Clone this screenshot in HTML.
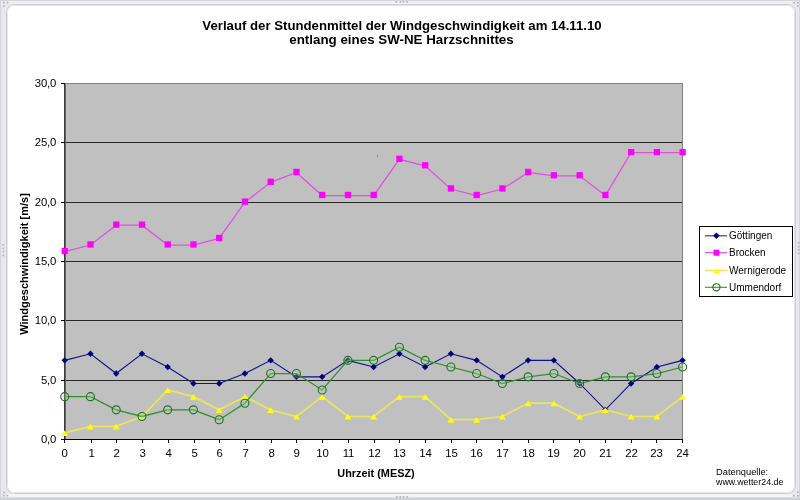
<!DOCTYPE html>
<html><head><meta charset="utf-8"><style>
html,body{margin:0;padding:0;width:800px;height:500px;overflow:hidden;background:#fff}
body{position:relative;font-family:"Liberation Sans",sans-serif;color:#000}
.tx{position:absolute;left:0;top:0;width:800px;height:500px;will-change:transform}
svg{position:absolute;left:0;top:0}
.t{position:absolute;left:0;width:804px;text-align:center;font-weight:bold;font-size:13.2px;white-space:nowrap}
.yl{position:absolute;left:0;width:56px;text-align:right;font-size:11.3px;line-height:14px;letter-spacing:-0.2px}
.xl{position:absolute;top:445.5px;width:40px;text-align:center;font-size:11.4px;line-height:14px;letter-spacing:-0.2px}
.lg{position:absolute;left:729px;font-size:10px;line-height:13px;white-space:nowrap}
.yt{position:absolute;left:23.5px;top:264px;width:200px;margin-left:-100px;margin-top:-7px;text-align:center;font-weight:bold;font-size:11px;line-height:14px;transform:rotate(-90deg);white-space:nowrap}
.xt{position:absolute;top:466px;left:276px;width:200px;text-align:center;font-weight:bold;font-size:10.9px;line-height:14px;white-space:nowrap}
.ds{position:absolute;left:716px;font-size:9px;line-height:10px;white-space:nowrap}
</style></head><body>
<svg width="800" height="500" viewBox="0 0 800 500">
<rect x="0" y="0" width="800" height="500" fill="#e9e9ed"/>
<rect x="8" y="1" width="784" height="3" fill="#f0f0f2"/>
<rect x="8" y="494" width="784" height="3" fill="#f4f4f6"/>
<rect x="0" y="497" width="800" height="1" fill="#e0e0e4"/>
<rect x="0.5" y="0.5" width="799" height="498" fill="none" stroke="#d6d6da" stroke-width="1"/>
<rect x="0" y="498" width="800" height="2" fill="#d0d0d8"/>
<rect x="6.5" y="4.5" width="789" height="489" rx="8" ry="8" fill="#ffffff" stroke="#cdcdd0" stroke-width="1"/>
<rect x="7.5" y="5.5" width="787" height="487" rx="7" ry="7" fill="none" stroke="#e6e6e8" stroke-width="1"/>
<rect x="3.0" y="1.7999999999999998" width="1.6" height="1.6" fill="#b0b0b4"/><rect x="6.8" y="1.7999999999999998" width="1.6" height="1.6" fill="#b0b0b4"/><rect x="3.0" y="5.3" width="1.6" height="1.6" fill="#b0b0b4"/>
<rect x="395.5" y="1.0" width="1.6" height="1.6" fill="#b0b0b4"/><rect x="399.75" y="1.0" width="1.6" height="1.6" fill="#b0b0b4"/><rect x="402.75" y="1.0" width="1.6" height="1.6" fill="#b0b0b4"/><rect x="406.25" y="1.0" width="1.6" height="1.6" fill="#b0b0b4"/>
<rect x="797.0" y="491.5" width="1.6" height="1.6" fill="#b0b0b4"/><rect x="793.0" y="495.0" width="1.6" height="1.6" fill="#b0b0b4"/><rect x="797.0" y="495.0" width="1.6" height="1.6" fill="#b0b0b4"/>
<rect x="2.5" y="244.1" width="1.6" height="1.6" fill="#b0b0b4"/><rect x="2.5" y="247.7" width="1.6" height="1.6" fill="#b0b0b4"/><rect x="2.5" y="250.9" width="1.6" height="1.6" fill="#b0b0b4"/><rect x="2.5" y="254.7" width="1.6" height="1.6" fill="#b0b0b4"/>
<rect x="797.7" y="242.3" width="1.6" height="1.6" fill="#b0b0b4"/><rect x="797.7" y="245.9" width="1.6" height="1.6" fill="#b0b0b4"/><rect x="797.7" y="249.1" width="1.6" height="1.6" fill="#b0b0b4"/><rect x="797.7" y="252.7" width="1.6" height="1.6" fill="#b0b0b4"/>
<rect x="396.0" y="496.0" width="1.6" height="1.6" fill="#b0b0b4"/><rect x="399.5" y="496.0" width="1.6" height="1.6" fill="#b0b0b4"/><rect x="402.75" y="496.0" width="1.6" height="1.6" fill="#b0b0b4"/><rect x="406.5" y="496.0" width="1.6" height="1.6" fill="#b0b0b4"/>
<rect x="3.1" y="491.7" width="1.6" height="1.6" fill="#b0b0b4"/><rect x="6.7" y="494.8" width="1.6" height="1.6" fill="#b0b0b4"/><rect x="3.1" y="494.8" width="1.6" height="1.6" fill="#b0b0b4"/>
<rect x="793.5" y="1.9" width="1.6" height="1.6" fill="#b0b0b4"/><rect x="797.1" y="1.9" width="1.6" height="1.6" fill="#b0b0b4"/><rect x="797.1" y="5.2" width="1.6" height="1.6" fill="#b0b0b4"/>
<rect x="64.5" y="83.5" width="618" height="356" fill="#c0c0c0" stroke="#808080" stroke-width="1"/>
<line x1="64" y1="380.5" x2="682" y2="380.5" stroke="#282828" stroke-width="1"/>
<line x1="64" y1="320.5" x2="682" y2="320.5" stroke="#282828" stroke-width="1"/>
<line x1="64" y1="261.5" x2="682" y2="261.5" stroke="#282828" stroke-width="1"/>
<line x1="64" y1="202.5" x2="682" y2="202.5" stroke="#282828" stroke-width="1"/>
<line x1="64" y1="142.5" x2="682" y2="142.5" stroke="#282828" stroke-width="1"/>
<line x1="64.5" y1="83" x2="64.5" y2="440" stroke="#383838" stroke-width="1"/>
<line x1="65.5" y1="84" x2="65.5" y2="439" stroke="#686868" stroke-width="1"/>
<line x1="64" y1="439.5" x2="683" y2="439.5" stroke="#000" stroke-width="1"/>
<line x1="61" y1="439.5" x2="65" y2="439.5" stroke="#000" stroke-width="1"/>
<line x1="61" y1="380.5" x2="65" y2="380.5" stroke="#000" stroke-width="1"/>
<line x1="61" y1="320.5" x2="65" y2="320.5" stroke="#000" stroke-width="1"/>
<line x1="61" y1="261.5" x2="65" y2="261.5" stroke="#000" stroke-width="1"/>
<line x1="61" y1="202.5" x2="65" y2="202.5" stroke="#000" stroke-width="1"/>
<line x1="61" y1="142.5" x2="65" y2="142.5" stroke="#000" stroke-width="1"/>
<line x1="61" y1="83.5" x2="65" y2="83.5" stroke="#000" stroke-width="1"/>
<line x1="64.5" y1="439" x2="64.5" y2="443" stroke="#000" stroke-width="1"/>
<line x1="91.5" y1="439" x2="91.5" y2="443" stroke="#000" stroke-width="1"/>
<line x1="116.5" y1="439" x2="116.5" y2="443" stroke="#000" stroke-width="1"/>
<line x1="142.5" y1="439" x2="142.5" y2="443" stroke="#000" stroke-width="1"/>
<line x1="168.5" y1="439" x2="168.5" y2="443" stroke="#000" stroke-width="1"/>
<line x1="194.5" y1="439" x2="194.5" y2="443" stroke="#000" stroke-width="1"/>
<line x1="219.5" y1="439" x2="219.5" y2="443" stroke="#000" stroke-width="1"/>
<line x1="245.5" y1="439" x2="245.5" y2="443" stroke="#000" stroke-width="1"/>
<line x1="271.5" y1="439" x2="271.5" y2="443" stroke="#000" stroke-width="1"/>
<line x1="296.5" y1="439" x2="296.5" y2="443" stroke="#000" stroke-width="1"/>
<line x1="322.5" y1="439" x2="322.5" y2="443" stroke="#000" stroke-width="1"/>
<line x1="348.5" y1="439" x2="348.5" y2="443" stroke="#000" stroke-width="1"/>
<line x1="374.5" y1="439" x2="374.5" y2="443" stroke="#000" stroke-width="1"/>
<line x1="399.5" y1="439" x2="399.5" y2="443" stroke="#000" stroke-width="1"/>
<line x1="425.5" y1="439" x2="425.5" y2="443" stroke="#000" stroke-width="1"/>
<line x1="451.5" y1="439" x2="451.5" y2="443" stroke="#000" stroke-width="1"/>
<line x1="476.5" y1="439" x2="476.5" y2="443" stroke="#000" stroke-width="1"/>
<line x1="502.5" y1="439" x2="502.5" y2="443" stroke="#000" stroke-width="1"/>
<line x1="528.5" y1="439" x2="528.5" y2="443" stroke="#000" stroke-width="1"/>
<line x1="553.5" y1="439" x2="553.5" y2="443" stroke="#000" stroke-width="1"/>
<line x1="579.5" y1="439" x2="579.5" y2="443" stroke="#000" stroke-width="1"/>
<line x1="605.5" y1="439" x2="605.5" y2="443" stroke="#000" stroke-width="1"/>
<line x1="631.5" y1="439" x2="631.5" y2="443" stroke="#000" stroke-width="1"/>
<line x1="656.5" y1="439" x2="656.5" y2="443" stroke="#000" stroke-width="1"/>
<line x1="682.5" y1="439" x2="682.5" y2="443" stroke="#000" stroke-width="1"/>
<polyline points="64.70,360.35 90.45,353.82 116.19,373.52 141.94,353.82 167.68,366.99 193.43,383.49 219.18,383.49 244.92,373.52 270.67,360.35 296.41,376.84 322.16,376.84 347.90,360.35 373.65,366.99 399.40,353.82 425.14,366.99 450.89,353.82 476.63,360.35 502.38,376.84 528.12,360.35 553.87,360.35 579.62,383.49 605.36,409.83 631.11,383.49 656.85,366.99 682.60,360.35" fill="none" stroke="#101088" stroke-width="1.1"/>
<polygon points="64.70,357.15 67.90,360.35 64.70,363.55 61.50,360.35" fill="#000080"/>
<polygon points="90.45,350.62 93.65,353.82 90.45,357.02 87.25,353.82" fill="#000080"/>
<polygon points="116.19,370.32 119.39,373.52 116.19,376.72 112.99,373.52" fill="#000080"/>
<polygon points="141.94,350.62 145.14,353.82 141.94,357.02 138.74,353.82" fill="#000080"/>
<polygon points="167.68,363.79 170.88,366.99 167.68,370.19 164.48,366.99" fill="#000080"/>
<polygon points="193.43,380.29 196.63,383.49 193.43,386.69 190.23,383.49" fill="#000080"/>
<polygon points="219.18,380.29 222.38,383.49 219.18,386.69 215.98,383.49" fill="#000080"/>
<polygon points="244.92,370.32 248.12,373.52 244.92,376.72 241.72,373.52" fill="#000080"/>
<polygon points="270.67,357.15 273.87,360.35 270.67,363.55 267.47,360.35" fill="#000080"/>
<polygon points="296.41,373.64 299.61,376.84 296.41,380.04 293.21,376.84" fill="#000080"/>
<polygon points="322.16,373.64 325.36,376.84 322.16,380.04 318.96,376.84" fill="#000080"/>
<polygon points="347.90,357.15 351.10,360.35 347.90,363.55 344.70,360.35" fill="#000080"/>
<polygon points="373.65,363.79 376.85,366.99 373.65,370.19 370.45,366.99" fill="#000080"/>
<polygon points="399.40,350.62 402.60,353.82 399.40,357.02 396.20,353.82" fill="#000080"/>
<polygon points="425.14,363.79 428.34,366.99 425.14,370.19 421.94,366.99" fill="#000080"/>
<polygon points="450.89,350.62 454.09,353.82 450.89,357.02 447.69,353.82" fill="#000080"/>
<polygon points="476.63,357.15 479.83,360.35 476.63,363.55 473.43,360.35" fill="#000080"/>
<polygon points="502.38,373.64 505.58,376.84 502.38,380.04 499.18,376.84" fill="#000080"/>
<polygon points="528.12,357.15 531.33,360.35 528.12,363.55 524.92,360.35" fill="#000080"/>
<polygon points="553.87,357.15 557.07,360.35 553.87,363.55 550.67,360.35" fill="#000080"/>
<polygon points="579.62,380.29 582.82,383.49 579.62,386.69 576.42,383.49" fill="#000080"/>
<polygon points="605.36,406.63 608.56,409.83 605.36,413.03 602.16,409.83" fill="#000080"/>
<polygon points="631.11,380.29 634.31,383.49 631.11,386.69 627.91,383.49" fill="#000080"/>
<polygon points="656.85,363.79 660.05,366.99 656.85,370.19 653.65,366.99" fill="#000080"/>
<polygon points="682.60,357.15 685.80,360.35 682.60,363.55 679.40,360.35" fill="#000080"/>
<polyline points="64.70,251.65 90.45,245.01 116.19,225.19 141.94,225.19 167.68,245.01 193.43,245.01 219.18,238.48 244.92,202.17 270.67,182.35 296.41,172.50 322.16,195.52 347.90,195.52 373.65,195.52 399.40,159.33 425.14,165.85 450.89,188.99 476.63,195.52 502.38,188.99 528.12,172.50 553.87,175.82 579.62,175.82 605.36,195.52 631.11,152.68 656.85,152.68 682.60,152.68" fill="none" stroke="#e050e0" stroke-width="1.25"/>
<rect x="61.60" y="247.95" width="6.3" height="6.3" fill="#ff00ff"/>
<rect x="87.35" y="241.31" width="6.3" height="6.3" fill="#ff00ff"/>
<rect x="113.09" y="221.49" width="6.3" height="6.3" fill="#ff00ff"/>
<rect x="138.84" y="221.49" width="6.3" height="6.3" fill="#ff00ff"/>
<rect x="164.58" y="241.31" width="6.3" height="6.3" fill="#ff00ff"/>
<rect x="190.33" y="241.31" width="6.3" height="6.3" fill="#ff00ff"/>
<rect x="216.08" y="234.78" width="6.3" height="6.3" fill="#ff00ff"/>
<rect x="241.82" y="198.47" width="6.3" height="6.3" fill="#ff00ff"/>
<rect x="267.57" y="178.65" width="6.3" height="6.3" fill="#ff00ff"/>
<rect x="293.31" y="168.80" width="6.3" height="6.3" fill="#ff00ff"/>
<rect x="319.06" y="191.82" width="6.3" height="6.3" fill="#ff00ff"/>
<rect x="344.80" y="191.82" width="6.3" height="6.3" fill="#ff00ff"/>
<rect x="370.55" y="191.82" width="6.3" height="6.3" fill="#ff00ff"/>
<rect x="396.30" y="155.63" width="6.3" height="6.3" fill="#ff00ff"/>
<rect x="422.04" y="162.15" width="6.3" height="6.3" fill="#ff00ff"/>
<rect x="447.79" y="185.29" width="6.3" height="6.3" fill="#ff00ff"/>
<rect x="473.53" y="191.82" width="6.3" height="6.3" fill="#ff00ff"/>
<rect x="499.28" y="185.29" width="6.3" height="6.3" fill="#ff00ff"/>
<rect x="525.02" y="168.80" width="6.3" height="6.3" fill="#ff00ff"/>
<rect x="550.77" y="172.12" width="6.3" height="6.3" fill="#ff00ff"/>
<rect x="576.52" y="172.12" width="6.3" height="6.3" fill="#ff00ff"/>
<rect x="602.26" y="191.82" width="6.3" height="6.3" fill="#ff00ff"/>
<rect x="628.01" y="148.98" width="6.3" height="6.3" fill="#ff00ff"/>
<rect x="653.75" y="148.98" width="6.3" height="6.3" fill="#ff00ff"/>
<rect x="679.50" y="148.98" width="6.3" height="6.3" fill="#ff00ff"/>
<polyline points="64.70,432.85 90.45,426.33 116.19,426.33 141.94,416.48 167.68,390.02 193.43,396.66 219.18,409.83 244.92,396.66 270.67,409.83 296.41,416.48 322.16,396.66 347.90,416.48 373.65,416.48 399.40,396.66 425.14,396.66 450.89,419.68 476.63,419.68 502.38,416.48 528.12,403.19 553.87,403.19 579.62,416.48 605.36,409.83 631.11,416.48 656.85,416.48 682.60,396.66" fill="none" stroke="#e6e660" stroke-width="1.7"/>
<polygon points="64.70,430.15 68.10,435.95 61.30,435.95" fill="#ffff00"/>
<polygon points="90.45,423.63 93.85,429.43 87.05,429.43" fill="#ffff00"/>
<polygon points="116.19,423.63 119.59,429.43 112.79,429.43" fill="#ffff00"/>
<polygon points="141.94,413.78 145.34,419.58 138.54,419.58" fill="#ffff00"/>
<polygon points="167.68,387.32 171.08,393.12 164.28,393.12" fill="#ffff00"/>
<polygon points="193.43,393.96 196.83,399.76 190.03,399.76" fill="#ffff00"/>
<polygon points="219.18,407.13 222.58,412.93 215.78,412.93" fill="#ffff00"/>
<polygon points="244.92,393.96 248.32,399.76 241.52,399.76" fill="#ffff00"/>
<polygon points="270.67,407.13 274.07,412.93 267.27,412.93" fill="#ffff00"/>
<polygon points="296.41,413.78 299.81,419.58 293.01,419.58" fill="#ffff00"/>
<polygon points="322.16,393.96 325.56,399.76 318.76,399.76" fill="#ffff00"/>
<polygon points="347.90,413.78 351.30,419.58 344.50,419.58" fill="#ffff00"/>
<polygon points="373.65,413.78 377.05,419.58 370.25,419.58" fill="#ffff00"/>
<polygon points="399.40,393.96 402.80,399.76 396.00,399.76" fill="#ffff00"/>
<polygon points="425.14,393.96 428.54,399.76 421.74,399.76" fill="#ffff00"/>
<polygon points="450.89,416.98 454.29,422.78 447.49,422.78" fill="#ffff00"/>
<polygon points="476.63,416.98 480.03,422.78 473.23,422.78" fill="#ffff00"/>
<polygon points="502.38,413.78 505.78,419.58 498.98,419.58" fill="#ffff00"/>
<polygon points="528.12,400.49 531.52,406.29 524.73,406.29" fill="#ffff00"/>
<polygon points="553.87,400.49 557.27,406.29 550.47,406.29" fill="#ffff00"/>
<polygon points="579.62,413.78 583.02,419.58 576.22,419.58" fill="#ffff00"/>
<polygon points="605.36,407.13 608.76,412.93 601.96,412.93" fill="#ffff00"/>
<polygon points="631.11,413.78 634.51,419.58 627.71,419.58" fill="#ffff00"/>
<polygon points="656.85,413.78 660.25,419.58 653.45,419.58" fill="#ffff00"/>
<polygon points="682.60,393.96 686.00,399.76 679.20,399.76" fill="#ffff00"/>
<polyline points="64.70,396.66 90.45,396.66 116.19,409.83 141.94,416.48 167.68,409.83 193.43,409.83 219.18,419.68 244.92,403.19 270.67,373.52 296.41,373.52 322.16,390.02 347.90,360.35 373.65,360.35 399.40,347.18 425.14,360.35 450.89,366.99 476.63,373.52 502.38,383.49 528.12,376.84 553.87,373.52 579.62,383.49 605.36,376.84 631.11,376.84 656.85,373.52 682.60,366.99" fill="none" stroke="#309030" stroke-width="1.25"/>
<circle cx="64.70" cy="396.66" r="4" fill="#b0d0b0" fill-opacity="0.3" stroke="#207020" stroke-width="1.1"/>
<circle cx="90.45" cy="396.66" r="4" fill="#b0d0b0" fill-opacity="0.3" stroke="#207020" stroke-width="1.1"/>
<circle cx="116.19" cy="409.83" r="4" fill="#b0d0b0" fill-opacity="0.3" stroke="#207020" stroke-width="1.1"/>
<circle cx="141.94" cy="416.48" r="4" fill="#b0d0b0" fill-opacity="0.3" stroke="#207020" stroke-width="1.1"/>
<circle cx="167.68" cy="409.83" r="4" fill="#b0d0b0" fill-opacity="0.3" stroke="#207020" stroke-width="1.1"/>
<circle cx="193.43" cy="409.83" r="4" fill="#b0d0b0" fill-opacity="0.3" stroke="#207020" stroke-width="1.1"/>
<circle cx="219.18" cy="419.68" r="4" fill="#b0d0b0" fill-opacity="0.3" stroke="#207020" stroke-width="1.1"/>
<circle cx="244.92" cy="403.19" r="4" fill="#b0d0b0" fill-opacity="0.3" stroke="#207020" stroke-width="1.1"/>
<circle cx="270.67" cy="373.52" r="4" fill="#b0d0b0" fill-opacity="0.3" stroke="#207020" stroke-width="1.1"/>
<circle cx="296.41" cy="373.52" r="4" fill="#b0d0b0" fill-opacity="0.3" stroke="#207020" stroke-width="1.1"/>
<circle cx="322.16" cy="390.02" r="4" fill="#b0d0b0" fill-opacity="0.3" stroke="#207020" stroke-width="1.1"/>
<circle cx="347.90" cy="360.35" r="4" fill="#b0d0b0" fill-opacity="0.3" stroke="#207020" stroke-width="1.1"/>
<circle cx="373.65" cy="360.35" r="4" fill="#b0d0b0" fill-opacity="0.3" stroke="#207020" stroke-width="1.1"/>
<circle cx="399.40" cy="347.18" r="4" fill="#b0d0b0" fill-opacity="0.3" stroke="#207020" stroke-width="1.1"/>
<circle cx="425.14" cy="360.35" r="4" fill="#b0d0b0" fill-opacity="0.3" stroke="#207020" stroke-width="1.1"/>
<circle cx="450.89" cy="366.99" r="4" fill="#b0d0b0" fill-opacity="0.3" stroke="#207020" stroke-width="1.1"/>
<circle cx="476.63" cy="373.52" r="4" fill="#b0d0b0" fill-opacity="0.3" stroke="#207020" stroke-width="1.1"/>
<circle cx="502.38" cy="383.49" r="4" fill="#b0d0b0" fill-opacity="0.3" stroke="#207020" stroke-width="1.1"/>
<circle cx="528.12" cy="376.84" r="4" fill="#b0d0b0" fill-opacity="0.3" stroke="#207020" stroke-width="1.1"/>
<circle cx="553.87" cy="373.52" r="4" fill="#b0d0b0" fill-opacity="0.3" stroke="#207020" stroke-width="1.1"/>
<circle cx="579.62" cy="383.49" r="4" fill="#b0d0b0" fill-opacity="0.3" stroke="#207020" stroke-width="1.1"/>
<circle cx="605.36" cy="376.84" r="4" fill="#b0d0b0" fill-opacity="0.3" stroke="#207020" stroke-width="1.1"/>
<circle cx="631.11" cy="376.84" r="4" fill="#b0d0b0" fill-opacity="0.3" stroke="#207020" stroke-width="1.1"/>
<circle cx="656.85" cy="373.52" r="4" fill="#b0d0b0" fill-opacity="0.3" stroke="#207020" stroke-width="1.1"/>
<circle cx="682.60" cy="366.99" r="4" fill="#b0d0b0" fill-opacity="0.3" stroke="#207020" stroke-width="1.1"/>
<rect x="377" y="155.5" width="1" height="1" fill="#606060"/>
<rect x="699.5" y="226.5" width="93" height="70" fill="#fff" stroke="#000" stroke-width="1"/>
<line x1="705" y1="235.8" x2="727" y2="235.8" stroke="#404090" stroke-width="1.2"/>
<line x1="705" y1="252.7" x2="727" y2="252.7" stroke="#e050e0" stroke-width="1.2"/>
<line x1="705" y1="270.5" x2="727" y2="270.5" stroke="#e6e660" stroke-width="1.5"/>
<line x1="705" y1="287.3" x2="727" y2="287.3" stroke="#40a040" stroke-width="1.2"/>
<polygon points="716.4,232.60000000000002 719.6,235.8 716.4,239.0 713.1999999999999,235.8" fill="#000080"/>
<rect x="713.4" y="249.7" width="6" height="6" fill="#ff00ff"/>
<polygon points="716.4,267.8 719.8,273.6 713.0,273.6" fill="#ffff00"/>
<circle cx="716.4" cy="287.3" r="3.6" fill="none" stroke="#207020" stroke-width="1.1"/>
</svg>
<div class="tx">
<div class="t" style="top:17.5px;line-height:15px">Verlauf der Stundenmittel der Windgeschwindigkeit am 14.11.10</div>
<div class="t" style="top:32px;line-height:15px;width:803px;font-size:13.35px">entlang eines SW-NE Harzschnittes</div>
<div class="yl" style="top:432px">0,0</div><div class="yl" style="top:373px">5,0</div><div class="yl" style="top:313px">10,0</div><div class="yl" style="top:254px">15,0</div><div class="yl" style="top:195px">20,0</div><div class="yl" style="top:135px">25,0</div><div class="yl" style="top:76px">30,0</div><div class="xl" style="left:44.50px">0</div><div class="xl" style="left:71.50px">1</div><div class="xl" style="left:96.50px">2</div><div class="xl" style="left:122.50px">3</div><div class="xl" style="left:148.50px">4</div><div class="xl" style="left:174.50px">5</div><div class="xl" style="left:199.50px">6</div><div class="xl" style="left:225.50px">7</div><div class="xl" style="left:251.50px">8</div><div class="xl" style="left:276.50px">9</div><div class="xl" style="left:302.50px">10</div><div class="xl" style="left:328.50px">11</div><div class="xl" style="left:354.50px">12</div><div class="xl" style="left:379.50px">13</div><div class="xl" style="left:405.50px">14</div><div class="xl" style="left:431.50px">15</div><div class="xl" style="left:456.50px">16</div><div class="xl" style="left:482.50px">17</div><div class="xl" style="left:508.50px">18</div><div class="xl" style="left:533.50px">19</div><div class="xl" style="left:559.50px">20</div><div class="xl" style="left:585.50px">21</div><div class="xl" style="left:611.50px">22</div><div class="xl" style="left:636.50px">23</div><div class="xl" style="left:662.50px">24</div><div class="lg" style="top:229.3px">Göttingen</div><div class="lg" style="top:246.2px">Brocken</div><div class="lg" style="top:264.0px">Wernigerode</div><div class="lg" style="top:280.8px">Ummendorf</div>
<div class="yt">Windgeschwindigkeit [m/s]</div>
<div class="xt">Uhrzeit (MESZ)</div>
<div class="ds" style="top:467px;font-size:9.3px">Datenquelle:</div>
<div class="ds" style="top:477px;font-size:8.85px">www.wetter24.de</div>
</div>
</body></html>
